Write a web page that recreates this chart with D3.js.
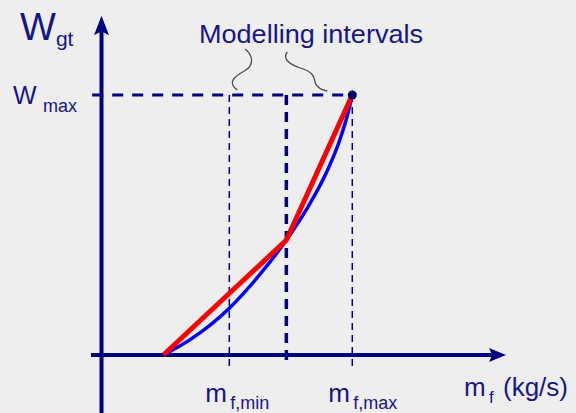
<!DOCTYPE html>
<html>
<head>
<meta charset="utf-8">
<script src="https://cdn.jsdelivr.net/npm/d3@7/dist/d3.min.js"></script>
<style>
  html, body { margin: 0; padding: 0; background: #eeeeee; }
  svg { display: block; }
  text { font-family: "Liberation Sans", Arial, sans-serif; fill: #16168a; }
</style>
</head>
<body>
<svg id="chart" width="576" height="413"></svg>
<script>
// Fuel mass flow positions (mf) of the operating points
const mfStart = 1.53;
const mfMin = 3.16;
const mfMid = 4.57;
const mfMax = 6.2;
const wMid = 0.442;
const wMax = 1.0;

// Piecewise-linear model (red)
const redMf = [mfStart, mfMid, mfMax];
const redW = [0, wMid, wMax];

// Actual gas-turbine power curve (blue)
const blueMf = [1.53, 2.20, 3.16, 3.88, 4.57, 5.06, 5.53, 5.89, 6.08, 6.20];
const blueW = [0, 0.060, 0.180, 0.303, 0.442, 0.558, 0.692, 0.827, 0.923, 1.0];

// Guide lines dropped from W_max
const guideMf = [mfMin, mfMid, mfMax];
const guideThick = [false, true, false];

// Tick labels on the mf axis
const tickMf = [mfMin, mfMax];
const tickSub = ["f,min", "f,max"];

const svg = d3.select("#chart");
const x = d3.scaleLinear().domain([0, 10]).range([101.5, 506]);
const y = d3.scaleLinear().domain([0, 1]).range([355, 95]);

const navy = "#000080";

// Guide lines
svg.append("line")
  .attr("x1", x(-0.23)).attr("x2", x(mfMax))
  .attr("y1", y(wMax)).attr("y2", y(wMax))
  .attr("stroke", navy).attr("stroke-width", 3)
  .attr("stroke-dasharray", "11,9");

svg.selectAll("line.guide").data(guideMf).join("line")
  .attr("class", "guide")
  .attr("x1", d => x(d)).attr("x2", d => x(d))
  .attr("y1", y(wMax))
  .attr("y2", (d, i) => guideThick[i] ? y(-0.046) : y(-0.058))
  .attr("stroke", navy)
  .attr("stroke-width", (d, i) => guideThick[i] ? 3.5 : 1.5)
  .attr("stroke-dasharray", (d, i) => guideThick[i] ? "10,7" : "7,5");

// Axes
svg.append("line")
  .attr("x1", x(0)).attr("x2", x(0))
  .attr("y1", y(1.26)).attr("y2", 413)
  .attr("stroke", navy).attr("stroke-width", 4);
svg.append("path")
  .attr("d", `M${x(0)},${y(1.305)} L${x(0) + 7.5},${y(1.23)} L${x(0)},${y(1.245)} L${x(0) - 7.5},${y(1.23)} Z`)
  .attr("fill", navy);

svg.append("line")
  .attr("x1", x(-0.26)).attr("x2", x(9.7))
  .attr("y1", y(0)).attr("y2", y(0))
  .attr("stroke", navy).attr("stroke-width", 4);
svg.append("path")
  .attr("d", `M${x(10)},${y(0)} L${x(9.58)},${y(0) - 7} L${x(9.66)},${y(0)} L${x(9.58)},${y(0) + 7} Z`)
  .attr("fill", navy);

// Curves
const line = d3.line().x(d => x(d[0])).y(d => y(d[1]));
svg.append("path")
  .datum(d3.zip(blueMf, blueW))
  .attr("d", line.curve(d3.curveMonotoneX))
  .attr("fill", "none").attr("stroke", "#0000ff").attr("stroke-width", 3.5);

svg.append("path")
  .datum(d3.zip(redMf, redW))
  .attr("d", d3.line().x(d => x(d[0])).y(d => y(d[1])))
  .attr("fill", "none").attr("stroke", "#ff0000").attr("stroke-width", 5)
  .attr("stroke-linejoin", "round");

svg.append("circle")
  .attr("cx", x(mfMax)).attr("cy", y(wMax)).attr("r", 4.5)
  .attr("fill", "#000060");

// Axis titles
const wgt = svg.append("text").attr("x", 20).attr("y", 40);
wgt.append("tspan").attr("font-size", 38).text("W");
wgt.append("tspan").attr("font-size", 21).attr("dy", 6).text("gt");

const wmax = svg.append("text").attr("x", 13).attr("y", y(wMax) + 9);
wmax.append("tspan").attr("font-size", 25).text("W");
wmax.append("tspan").attr("x", 43).attr("font-size", 18).attr("dy", 7.5)
  .attr("textLength", 34).attr("lengthAdjust", "spacingAndGlyphs").text("max");

const mfTitle = svg.append("text").attr("x", 464).attr("y", 396);
mfTitle.append("tspan").attr("font-size", 26).text("m");
mfTitle.append("tspan").attr("x", 489).attr("font-size", 17).attr("dy", 7).text("f");
mfTitle.append("tspan").attr("x", 503).attr("font-size", 26).attr("dy", -7).text("(kg/s)");

// Tick labels
tickMf.forEach((v, i) => {
  const t = svg.append("text").attr("x", x(v) - 24).attr("y", 402);
  t.append("tspan").attr("font-size", 26).text("m");
  t.append("tspan").attr("x", x(v) + 1).attr("font-size", 18).attr("dy", 7).text(tickSub[i]);
});

// Annotation
svg.append("text")
  .attr("x", 199).attr("y", 43)
  .attr("font-size", 26)
  .attr("textLength", 224).attr("lengthAdjust", "spacingAndGlyphs")
  .text("Modelling intervals");

const lx = x(mfMin) + 8, ly = y(wMax) - 4;
svg.append("path")
  .attr("d", `M${lx + 8},${ly - 42} C${lx + 16},${ly - 35} ${lx + 17},${ly - 26} ${lx + 7},${ly - 20} C${lx - 4},${ly - 14} ${lx - 10},${ly - 8} ${lx},${ly - 1}`)
  .attr("fill", "none").attr("stroke", "#4a4a4a").attr("stroke-width", 1.3);

const rx = x(mfMax) - 25, ry = y(wMax) - 4;
svg.append("path")
  .attr("d", `M${rx - 40},${ry - 39} C${rx - 45},${ry - 33} ${rx - 39},${ry - 27} ${rx - 27},${ry - 23} C${rx - 13},${ry - 19} ${rx - 13},${ry - 13} ${rx - 12},${ry - 8} C${rx - 10},${ry - 3} ${rx - 5},${ry - 1} ${rx},${ry}`)
  .attr("fill", "none").attr("stroke", "#4a4a4a").attr("stroke-width", 1.3);
</script>
</body>
</html>
